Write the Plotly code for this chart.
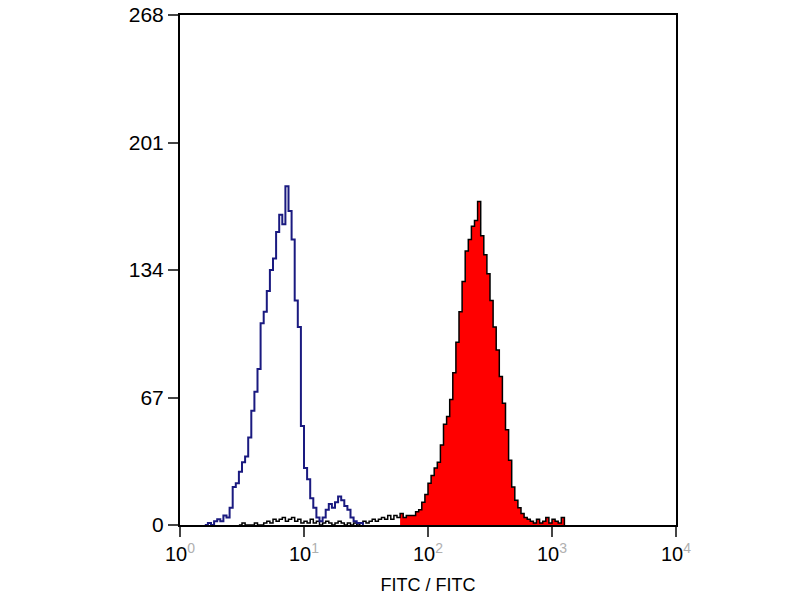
import plotly.graph_objects as go

# channel scale: 40 channels per decade, 10^0 .. 10^4
channels = [10 ** (i / 40) for i in range(161)]

# isotype control (blue outline)
blue_start = 8
blue_counts = [0, 1, 0, 2, 3, 2, 5, 4, 9, 20, 22, 28, 33, 36, 46, 60, 70, 82, 106, 112,
               123, 134, 140, 154, 163, 158, 178, 165, 150, 118, 104, 52, 30, 24, 14, 9,
               4, 2, 4, 8, 11, 9, 12, 15, 13, 10, 8, 4, 2, 1, 1, 0]

# stained sample (red filled)
red_start = 19
red_counts = [0, 1, 0, 0, 0, 1, 0, 0, 1, 2, 1, 3, 2, 3, 4, 2, 3, 4, 2, 3, 1, 2, 1, 3, 1,
              2, 0, 1, 2, 1, 0, 1, 2, 1, 0, 1, 0, 1, 0, 1, 2, 1, 2, 3, 2, 3, 4, 3, 5, 3,
              5, 4, 6, 4, 5, 5, 5, 7, 8, 12, 16, 22, 26, 30, 33, 42, 53, 57, 66, 80, 96,
              112, 128, 144, 150, 157, 160, 170, 152, 142, 132, 118, 104, 92, 78, 64, 50,
              34, 20, 13, 9, 6, 4, 3, 2, 1, 3, 1, 2, 4, 1, 3, 2, 1, 4, 0]
red_fill_from = 52  # gated region that is shaded

y_ticks = [0, 67, 134, 201, 268]
x_ticks = [1, 10, 100, 1000, 10000]
x_labels = ['10<sup><span style="color:#b0b0b0">%d</span></sup>' % i for i in range(5)]

red_x = channels[red_start:red_start + len(red_counts)]

fig = go.Figure()
fig.add_trace(go.Scatter(x=red_x[red_fill_from:], y=red_counts[red_fill_from:],
                         mode='lines', line=dict(color='rgba(0,0,0,0)', width=0, shape='hv'),
                         fill='tozeroy', fillcolor='#ff0000'))
fig.add_trace(go.Scatter(x=red_x, y=red_counts,
                         mode='lines', line=dict(color='black', width=1.5, shape='hv')))
fig.add_trace(go.Scatter(x=channels[blue_start:blue_start + len(blue_counts)], y=blue_counts,
                         mode='lines', line=dict(color='#1a1a80', width=2, shape='hv')))

# page body adds 8px offset, margins compensate
fig.update_layout(
    width=800,
    height=600,
    showlegend=False,
    plot_bgcolor='white',
    paper_bgcolor='white',
    margin=dict(l=172, r=132, t=7, b=83),
    font=dict(family='Liberation Sans, Arial', size=21, color='black'),
    xaxis=dict(
        type='log',
        range=[0, 4],
        automargin=False,
        tickmode='array',
        tickvals=x_ticks,
        ticktext=x_labels,
        ticks='outside',
        ticklen=10,
        tickwidth=2,
        tickfont=dict(size=20),
        showgrid=False,
        zeroline=False,
        showline=True,
        mirror=True,
        linecolor='black',
        linewidth=2,
        title=dict(text='FITC / FITC', font=dict(size=18), standoff=14),
    ),
    yaxis=dict(
        range=[0, 268],
        automargin=False,
        tickmode='array',
        tickvals=y_ticks,
        ticks='outside',
        ticklen=10,
        tickwidth=2,
        ticklabeloverflow='allow',
        showgrid=False,
        zeroline=False,
        showline=True,
        mirror=True,
        linecolor='black',
        linewidth=2,
    ),
)

fig.write_html("out.html")
